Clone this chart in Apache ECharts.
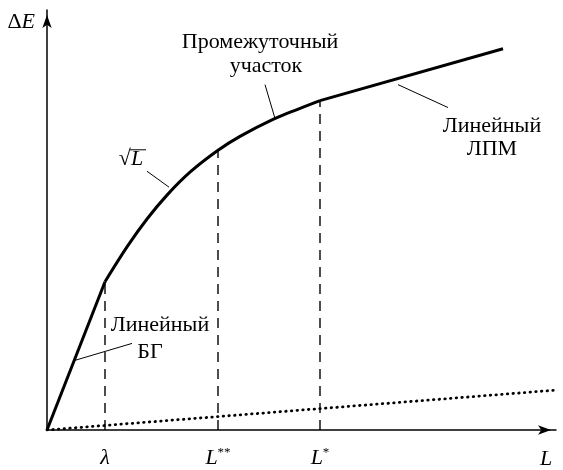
<!DOCTYPE html>
<html><head><meta charset="utf-8">
<script src="https://cdn.jsdelivr.net/npm/echarts@6/dist/echarts.min.js"></script>
<style>html,body{margin:0;padding:0;background:#fff}#c{width:563px;height:470px}</style>
</head><body><div id="c"></div>
<script>
// ---- data (arbitrary units) ----
const linearBG = [[0, 0], [58, 149]];
const sqrtPart = [[58, 149], [80, 184], [100, 212], [120, 236], [143, 259], [171, 281], [193, 295], [226, 312], [250, 322], [273, 331]];
const linearLPM = [[273, 331], [456, 383]];
const dottedLine = [[0, 0], [508, 40]];
const markX = [58, 171, 273];
const markY = [149, 281, 331];
const tickValues = [58, 171, 273];
const tickNames = ['λ', 'L**', 'L*'];
const xName = 'L';
const yName = 'ΔE';
const leaderLines = [
  [[100, 260], [122, 244]],
  [[218, 347], [228, 313]],
  [[351, 347], [401, 324]],
  [[28, 70], [85, 87]]
];
const noteTexts = ['√L', 'Промежуточный', 'участок', 'Линейный', 'ЛПМ', 'Линейный', 'БГ'];
const noteAnchors = [[84, 272], [213, 390], [219, 366], [445, 305], [445, 282], [113, 105], [103, 78]];

const SERIF = '"Liberation Serif", "DejaVu Serif", serif';
const FS = 22;
const chart = echarts.init(document.getElementById('c'), null, {renderer: 'canvas'});

const series = [];
const blackLine = (data, w, type, smooth) => ({
  type: 'line', data, symbol: 'none', smooth: smooth || false, silent: true, animation: false,
  lineStyle: {color: '#000', width: w, type: type || 'solid'}
});
series.push(blackLine(linearBG, 3));
series.push(blackLine(sqrtPart, 3, 'solid', 0.35));
series.push(blackLine(linearLPM, 3));
const dot = blackLine(dottedLine, 2.8, [0.5, 5.2]);
dot.lineStyle.cap = 'round';
series.push(dot);
markX.forEach((x, i) => series.push(blackLine([[x, 0], [x, markY[i]]], 1.4, [10, 7])));
leaderLines.forEach(l => series.push(blackLine(l, 1)));

const fmtMap = {};
tickValues.forEach((v, i) => fmtMap[v] = tickNames[i]);

chart.setOption({
  animation: false,
  backgroundColor: '#fff',
  grid: {left: 47, right: 7, top: 10, bottom: 38, containLabel: false},
  xAxis: {
    type: 'value', min: 0, max: 509,
    name: '{i|' + xName + '}', nameLocation: 'end', nameGap: -10,
    nameTextStyle: {align: 'center', verticalAlign: 'top', padding: [18, 0, 0, 0],
      rich: {i: {fontFamily: SERIF, fontStyle: 'italic', fontSize: FS, color: '#000'}}},
    axisLine: {show: true, lineStyle: {color: '#000', width: 1.5}, symbol: ['none', 'arrow'], symbolSize: [7, 13], symbolOffset: [0, -5]},
    axisTick: {show: false},
    splitLine: {show: false},
    axisLabel: {
      show: true, customValues: tickValues, margin: 16,
      formatter: v => {
        const n = fmtMap[v] || '';
        if (n.length > 1) return '{i|L}{s|' + n.slice(1) + '}';
        return '{i|' + n + '}';
      },
      rich: {
        i: {fontFamily: SERIF, fontStyle: 'italic', fontSize: FS, color: '#000', lineHeight: 24},
        s: {fontFamily: SERIF, fontSize: 13, color: '#000', lineHeight: 24, verticalAlign: 'top'}
      }
    }
  },
  yAxis: {
    type: 'value', min: 0, max: 422,
    name: '{r|' + yName.slice(0, 1) + '}{i|' + yName.slice(1) + '}', nameLocation: 'end', nameGap: -12,
    nameTextStyle: {align: 'right', verticalAlign: 'middle', padding: [0, 12, 0, 0],
      rich: {r: {fontFamily: SERIF, fontSize: FS, color: '#000'}, i: {fontFamily: SERIF, fontStyle: 'italic', fontSize: FS, color: '#000'}}},
    axisLine: {show: true, lineStyle: {color: '#000', width: 1.5}, symbol: ['none', 'arrow'], symbolSize: [7, 13], symbolOffset: [0, -5]},
    axisTick: {show: false},
    splitLine: {show: false},
    axisLabel: {show: false}
  },
  series
});

const graphics = [];
noteTexts.forEach((t, i) => {
  const p = chart.convertToPixel({gridIndex: 0}, noteAnchors[i]);
  if (t === '√L') {
    graphics.push({type: 'text', x: p[0], y: p[1], style: {
      text: '{r|√}{i|L}', align: 'center', verticalAlign: 'middle',
      rich: {r: {fontFamily: SERIF, fontSize: FS, fill: '#000'}, i: {fontFamily: SERIF, fontStyle: 'italic', fontSize: FS, fill: '#000'}}
    }});
    graphics.push({type: 'line', shape: {x1: p[0] - 1, y1: p[1] - 9.5, x2: p[0] + 15, y2: p[1] - 9.5}, style: {stroke: '#000', lineWidth: 1}});
  } else {
    graphics.push({type: 'text', x: p[0], y: p[1], style: {
      text: t, align: 'center', verticalAlign: 'middle', fontFamily: SERIF, fontSize: FS, fill: '#000'
    }});
  }
});
chart.setOption({graphic: graphics});
</script></body></html>
